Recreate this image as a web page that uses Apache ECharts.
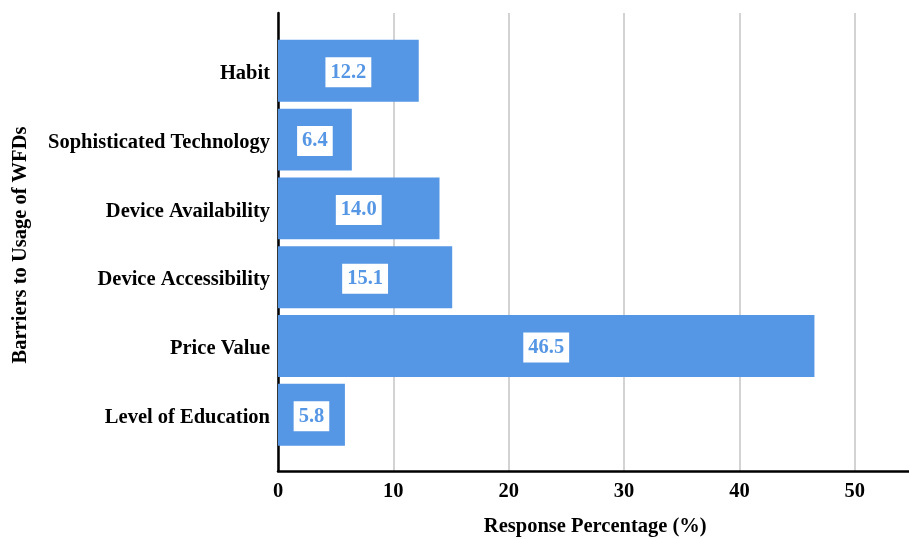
<!DOCTYPE html>
<html>
<head>
<meta charset="utf-8">
<script src="https://cdn.jsdelivr.net/npm/echarts@6/dist/echarts.min.js"></script>
<style>
  html, body { margin: 0; padding: 0; background: #ffffff; }
  #chart { width: 909px; height: 539px; }
</style>
</head>
<body>
<div id="chart"></div>
<script>
// Barriers to usage of WFDs, listed top to bottom
const categories = [
  'Habit',
  'Sophisticated Technology',
  'Device Availability',
  'Device Accessibility',
  'Price Value',
  'Level of Education'
];
const responsePercent = [12.2, 6.4, 14.0, 15.1, 46.5, 5.8];
const xTicks = [0, 10, 20, 30, 40, 50];

const FONT = '"Liberation Serif", "Times New Roman", serif';
const FONT_SIZE = 20.5;
const BAR_COLOR = '#5596e5';

const chart = echarts.init(document.getElementById('chart'), null, { renderer: 'canvas' });

chart.setOption({
  backgroundColor: '#ffffff',
  animation: false,
  grid: [
    // bars
    { left: 278, right: -3.5, top: 36.4, bottom: 89.8, containLabel: false, outerBoundsMode: 'none' },
    // full frame: gridlines and axis lines
    { left: 278, right: -3.5, top: 13, bottom: 68, containLabel: false, outerBoundsMode: 'none' }
  ],
  xAxis: [
    {
      gridIndex: 0, type: 'value', min: 0, max: 55, interval: 10,
      show: false
    },
    {
      gridIndex: 1, type: 'value', min: 0, max: 55, interval: 10,
      name: 'Response Percentage (%)',
      nameLocation: 'middle',
      nameGap: 45,
      nameTextStyle: { fontFamily: FONT, fontWeight: 'bold', fontSize: FONT_SIZE, color: '#000' },
      axisLine: { show: true, lineStyle: { color: '#000', width: 2.5 } },
      axisTick: { show: false },
      axisLabel: {
        margin: 10,
        fontFamily: FONT, fontWeight: 'bold', fontSize: FONT_SIZE, color: '#000',
        formatter: v => (xTicks.indexOf(v) >= 0 ? String(v) : '')
      },
      splitLine: { show: true, lineStyle: { color: '#c4c4c4', width: 1.5 } }
    }
  ],
  yAxis: [
    {
      gridIndex: 0, type: 'category', data: categories, inverse: true,
      axisLine: { show: false },
      axisTick: { show: false },
      axisLabel: {
        margin: 8,
        formatter: v => '{c|' + v + '}',
        rich: {
          c: {
            padding: [6, 0, 0, 0],
            fontFamily: FONT, fontWeight: 'bold', fontSize: FONT_SIZE, color: '#000'
          }
        },
        fontFamily: FONT, fontWeight: 'bold', fontSize: FONT_SIZE, color: '#000'
      }
    },
    {
      gridIndex: 1, type: 'value', min: 0, max: 1,
      name: 'Barriers to Usage of WFDs',
      nameLocation: 'middle',
      nameGap: 247,
      nameRotate: 90,
      nameTextStyle: { fontFamily: FONT, fontWeight: 'bold', fontSize: FONT_SIZE, color: '#000', padding: [0, 6, 0, 0] },
      axisLine: { show: true, lineStyle: { color: '#000', width: 2.5 } },
      axisTick: { show: false },
      axisLabel: { show: false },
      splitLine: { show: false }
    }
  ],
  series: [
    {
      type: 'bar',
      xAxisIndex: 0,
      yAxisIndex: 0,
      data: responsePercent,
      barWidth: '90%',
      itemStyle: { color: BAR_COLOR },
      label: {
        show: true,
        position: 'inside',
        offset: [0, 1.5],
        formatter: p => p.value.toFixed(1),
        fontFamily: FONT, fontWeight: 'bold', fontSize: FONT_SIZE,
        color: BAR_COLOR,
        backgroundColor: '#ffffff',
        padding: [6, 5, 3, 5]
      }
    }
  ]
});
</script>
</body>
</html>
